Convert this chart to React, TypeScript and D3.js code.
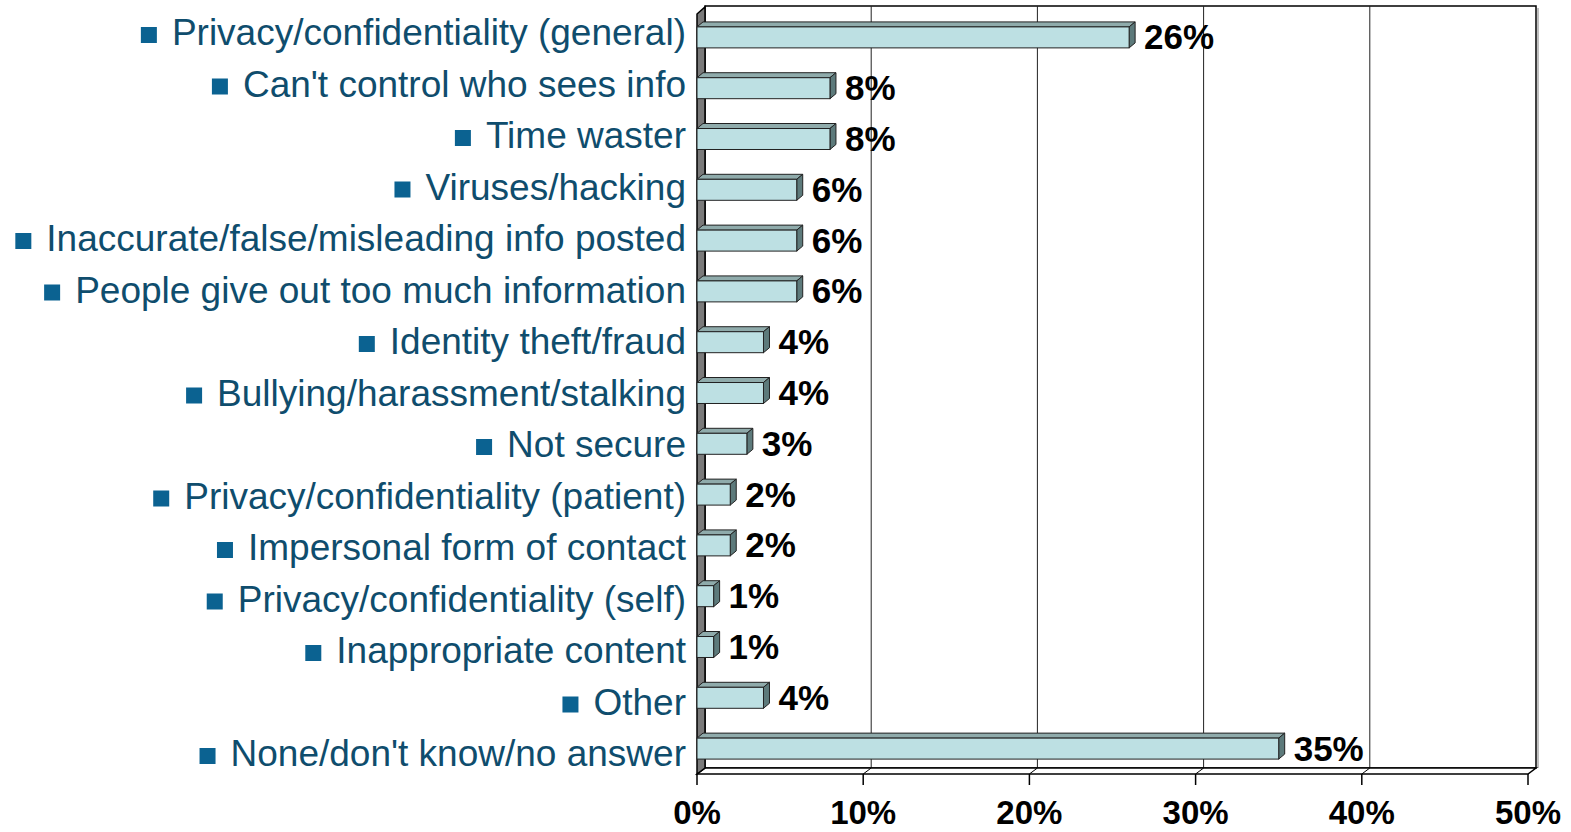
import React, { useEffect, useRef } from "react";
import * as d3 from "d3";

const categories = [
  "Privacy/confidentiality (general)",
  "Can't control who sees info",
  "Time waster",
  "Viruses/hacking",
  "Inaccurate/false/misleading info posted",
  "People give out too much information",
  "Identity theft/fraud",
  "Bullying/harassment/stalking",
  "Not secure",
  "Privacy/confidentiality (patient)",
  "Impersonal form of contact",
  "Privacy/confidentiality (self)",
  "Inappropriate content",
  "Other",
  "None/don't know/no answer",
];
const values = [26, 8, 8, 6, 6, 6, 4, 4, 3, 2, 2, 1, 1, 4, 35];
const tickValues = [0, 10, 20, 30, 40, 50];

const W = 1571;
const H = 832;

export default function App() {
  const ref = useRef<SVGSVGElement | null>(null);

  useEffect(() => {
    const svg = d3.select(ref.current);
    svg.selectAll("*").remove();

    const x0 = 697;
    const x = d3.scaleLinear().domain([0, 50]).range([x0, 1528]);
    const y = d3
      .scaleBand<string>()
      .domain(categories)
      .range([12, 774])
      .paddingInner(0.587)
      .paddingOuter(0.2935);
    const labelY = d3.scalePoint<string>().domain(categories).range([45, 766]);

    const dx = 8;
    const dy = 6;
    const floorY = 774;
    const topY = 12;

    const font = "'Liberation Sans', Arial, sans-serif";

    // back wall
    svg
      .append("rect")
      .attr("x", x0 + dx)
      .attr("y", topY - dy)
      .attr("width", x(50) - x0)
      .attr("height", floorY - topY)
      .attr("fill", "#fff")
      .attr("stroke", "#000")
      .attr("stroke-width", 1.5);
    svg
      .append("line")
      .attr("x1", x(50) + dx + 2)
      .attr("x2", x(50) + dx + 2)
      .attr("y1", topY - dy + 2)
      .attr("y2", floorY - dy)
      .attr("stroke", "#aaa")
      .attr("stroke-width", 1.5);

    // gridlines on back wall
    svg
      .append("g")
      .selectAll("line")
      .data(tickValues.slice(1, -1))
      .join("line")
      .attr("x1", (d) => x(d) + dx)
      .attr("x2", (d) => x(d) + dx)
      .attr("y1", topY - dy)
      .attr("y2", floorY - dy)
      .attr("stroke", "#222")
      .attr("stroke-width", 1);

    // floor
    svg
      .append("polygon")
      .attr(
        "points",
        [
          [x0, floorY],
          [x0 + dx, floorY - dy],
          [x(50) + dx, floorY - dy],
          [x(50), floorY],
        ]
          .map((p) => p.join(","))
          .join(" ")
      )
      .attr("fill", "#fff")
      .attr("stroke", "#000")
      .attr("stroke-width", 1.5);

    // floor grid slants + ticks
    svg
      .append("g")
      .selectAll("line")
      .data(tickValues.slice(1, -1))
      .join("line")
      .attr("x1", (d) => x(d) + dx)
      .attr("x2", (d) => x(d))
      .attr("y1", floorY - dy)
      .attr("y2", floorY)
      .attr("stroke", "#000")
      .attr("stroke-width", 1);
    svg
      .append("g")
      .selectAll("line")
      .data(tickValues)
      .join("line")
      .attr("x1", (d) => x(d))
      .attr("x2", (d) => x(d))
      .attr("y1", floorY)
      .attr("y2", floorY + 11)
      .attr("stroke", "#000")
      .attr("stroke-width", 1.5);

    // left wall
    svg
      .append("polygon")
      .attr(
        "points",
        [
          [x0, topY + 2],
          [x0 + dx, topY - dy + 1],
          [x0 + dx, floorY - dy],
          [x0, floorY],
        ]
          .map((p) => p.join(","))
          .join(" ")
      )
      .attr("fill", "#7a7a7a")
      .attr("stroke", "#000")
      .attr("stroke-width", 1.5);

    // bars
    const bdx = 6;
    const bdy = 5;
    const bars = svg.append("g");
    categories.forEach((c, i) => {
      const v = values[i];
      const yy0 = y(c)!;
      const yy1 = yy0 + y.bandwidth();
      const xx1 = x(v);
      const g = bars.append("g");
      const pts = (arr: number[][]) => arr.map((p) => p.join(",")).join(" ");
      g.append("polygon")
        .attr(
          "points",
          pts([
            [x0, yy0],
            [x0 + bdx, yy0 - bdy],
            [xx1 + bdx, yy0 - bdy],
            [xx1, yy0],
          ])
        )
        .attr("fill", "#8fabab")
        .attr("stroke", "#222")
        .attr("stroke-width", 1)
        .attr("stroke-linejoin", "round");
      g.append("polygon")
        .attr(
          "points",
          pts([
            [xx1, yy0],
            [xx1 + bdx, yy0 - bdy],
            [xx1 + bdx, yy1 - bdy],
            [xx1, yy1],
          ])
        )
        .attr("fill", "#5d7a7b")
        .attr("stroke", "#222")
        .attr("stroke-width", 1)
        .attr("stroke-linejoin", "round");
      g.append("rect")
        .attr("x", x0)
        .attr("y", yy0)
        .attr("width", xx1 - x0)
        .attr("height", yy1 - yy0)
        .attr("fill", "#bde0e3")
        .attr("stroke", "#222")
        .attr("stroke-width", 1);
      g.append("text")
        .attr("x", xx1 + 15)
        .attr("y", yy0 + y.bandwidth() / 2 + 12)
        .attr("font-family", font)
        .attr("font-weight", "bold")
        .attr("font-size", 35)
        .attr("fill", "#000")
        .text(`${v}%`);
    });

    // category labels
    const labG = svg.append("g");
    categories.forEach((c) => {
      const by = labelY(c)!;
      const t = labG
        .append("text")
        .attr("x", 686)
        .attr("y", by)
        .attr("text-anchor", "end")
        .attr("font-family", font)
        .attr("font-size", 37)
        .attr("fill", "#0f4d6d")
        .text(c);
      const w = (t.node() as SVGTextElement).getComputedTextLength();
      labG
        .append("rect")
        .attr("x", 686 - w - 15 - 16)
        .attr("y", by - 18)
        .attr("width", 16)
        .attr("height", 16)
        .attr("fill", "#0b6291");
    });

    // tick labels
    svg
      .append("g")
      .selectAll("text")
      .data(tickValues)
      .join("text")
      .attr("x", (d) => x(d))
      .attr("y", 824)
      .attr("text-anchor", "middle")
      .attr("font-family", font)
      .attr("font-weight", "bold")
      .attr("font-size", 33)
      .attr("fill", "#000")
      .text((d) => `${d}%`);
  }, []);

  return (
    <svg
      ref={ref}
      width={W}
      height={H}
      style={{ position: "absolute", left: 0, top: 0, background: "#fff" }}
    />
  );
}
